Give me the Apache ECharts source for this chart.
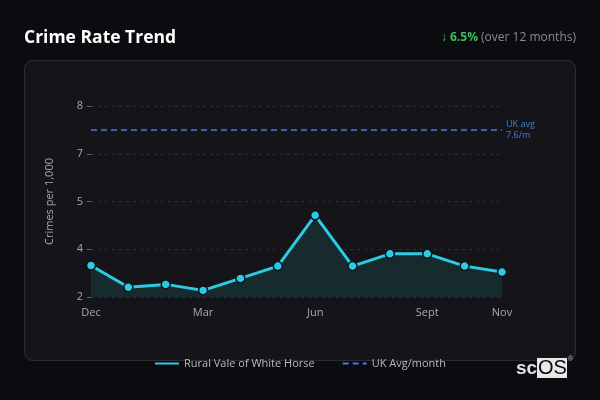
<!DOCTYPE html>
<html>
<head>
<meta charset="utf-8">
<script src="https://cdn.jsdelivr.net/npm/echarts@6/dist/echarts.min.js"></script>
<style>
html,body{margin:0;padding:0;background:#0c0c10;}
#c{width:600px;height:400px;}
</style>
</head>
<body>
<div id="c"></div>
<script>
const categories = ['Dec','Jan','Feb','Mar','Apr','May','Jun','Jul','Aug','Sept','Oct','Nov'];
const crimeRate = [3.30, 2.61, 2.70, 2.51, 2.89, 3.28, 4.89, 3.28, 3.67, 3.67, 3.28, 3.09];
const ukAvg = 7.6;
const ukAvgLine = categories.map(() => ukAvg);
const yMin = 2.3, yMax = 8.36;
const changeText = '6.5%';

const FONT = '"Open Sans", "Noto Sans", sans-serif';
const chart = echarts.init(document.getElementById('c'));
chart.setOption({
  backgroundColor: '#0c0c10',
  textStyle: { fontFamily: FONT },
  title: [{
    text: 'Crime Rate Trend', left: 24, top: 29, padding: 0,
    textStyle: { color: '#ffffff', fontSize: 17.5, fontWeight: 'bold', fontFamily: FONT }
  }, {
    text: '{a|↓ }{g|' + changeText + '}{s| (over 12 months)}', right: 24, top: 32, padding: 0,
    textStyle: { fontWeight: 'normal', rich: {
      a: { color: '#3cbf5a', fontSize: 12, fontWeight: 'normal', fontFamily: FONT },
      g: { color: '#3cbf5a', fontSize: 12, fontWeight: 'bold', fontFamily: FONT },
      s: { color: '#8a8a90', fontSize: 12, fontWeight: 'normal', fontFamily: FONT }
    } }
  }],
  graphic: [{
    type: 'rect', z: -10, silent: true,
    shape: { x: 24.5, y: 60.5, width: 551, height: 300, r: 8 },
    style: { fill: '#151519', stroke: '#2c2c32', lineWidth: 1 }
  }, {
    type: 'text', left: 516, top: 359, z: 10,
    style: { text: 'sc', fill: '#e0e0e0', font: 'bold 19px "Liberation Sans", Arial, sans-serif' }
  }, {
    type: 'rect', z: 9, shape: { x: 537, y: 358, width: 30, height: 20 },
    style: { fill: '#e8e8e8' }
  }, {
    type: 'text', left: 538, top: 358, z: 10,
    style: { text: 'OS', fill: '#0c0c10', font: '20px "Liberation Sans", Arial, sans-serif' }
  }, {
    type: 'text', left: 568, top: 356, z: 10,
    style: { text: '®', fill: '#bbbbbb', font: '7px sans-serif' }
  }],
  legend: {
    bottom: 26, left: 'center', itemWidth: 24, itemHeight: 10, itemGap: 27,
    itemStyle: { opacity: 0 },
    textStyle: { color: '#b8b8be', fontSize: 11, fontFamily: FONT },
    data: ['Rural Vale of White Horse', 'UK Avg/month']
  },
  grid: { left: 91, right: 98, top: 106, bottom: 103 },
  xAxis: {
    type: 'category', data: categories, boundaryGap: false,
    axisLine: { show: false }, axisTick: { show: false },
    axisLabel: {
      color: '#a8a8ae', fontSize: 11, margin: 10,
      interval: (i) => i % 3 === 0 || i === categories.length - 1
    }
  },
  yAxis: {
    type: 'value', min: yMin, max: yMax, interval: (yMax - yMin) / 4,
    name: 'Crimes per 1,000', nameLocation: 'middle', nameGap: 36,
    nameTextStyle: { color: '#a8a8ae', fontSize: 11 },
    axisLine: { show: false },
    axisTick: { show: true, length: 4, lineStyle: { color: '#66666c' } },
    axisLabel: { color: '#a8a8ae', fontSize: 11, margin: 8, formatter: (v) => Math.round(v).toString() },
    splitLine: { lineStyle: { color: '#2e2e34', type: [3, 4] } }
  },
  series: [{
    name: 'Rural Vale of White Horse', type: 'line', data: crimeRate,
    color: '#2ccbe4',
    symbol: 'circle', symbolSize: 9,
    lineStyle: { width: 3, color: '#2ccbe4' },
    itemStyle: { color: '#2ccbe4', borderColor: '#0b1518', borderWidth: 1.5 },
    areaStyle: { color: '#172a2e', opacity: 1 },
    z: 3
  }, {
    name: 'UK Avg/month', type: 'line', data: ukAvgLine,
    color: '#3f7fe0', symbol: 'none',
    lineStyle: { width: 1.5, type: [6, 4], color: '#3f7fe0' },
    endLabel: {
      show: true, distance: 4, color: '#3f7fe0', fontSize: 9, lineHeight: 11,
      formatter: () => 'UK avg\n' + ukAvg + '/m'
    },
    z: 2
  }]
});
</script>
</body>
</html>
